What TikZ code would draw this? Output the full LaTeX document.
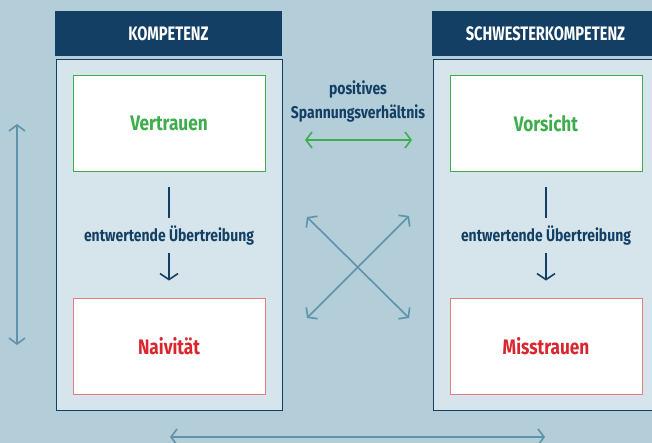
\documentclass[tikz,border=0pt]{standalone}
\usepackage{fontspec}
\setmainfont[FakeStretch=0.75]{Fira Sans}
\newfontfamily\widerfont[FakeStretch=0.82]{Fira Sans}
\usetikzlibrary{arrows.meta}
\definecolor{bgc}{HTML}{B3CDD9}
\definecolor{panelc}{HTML}{D6E5EC}
\definecolor{navy}{HTML}{143F64}
\definecolor{greenc}{HTML}{3DAE4B}
\definecolor{redc}{HTML}{D9262E}
\definecolor{redb}{HTML}{E57D80}
\definecolor{bluea}{HTML}{5E93AB}
\tikzset{
  header/.style={fill=navy, draw=none, minimum width=227pt, minimum height=45pt, inner sep=0pt,
    text=white, font=\bfseries\fontsize{19.5}{22}\selectfont},
  panel/.style={fill=panelc, draw=navy, line width=0.8pt, minimum width=226pt, minimum height=351pt, inner sep=0pt},
  goodbox/.style={fill=white, draw=greenc, line width=0.9pt, minimum width=192pt, minimum height=96pt, inner sep=0pt,
    text=greenc, font=\widerfont\bfseries\fontsize{21}{24}\selectfont},
  badbox/.style={fill=white, draw=redb, line width=0.9pt, minimum width=192pt, minimum height=96pt, inner sep=0pt,
    text=redc, font=\widerfont\bfseries\fontsize{21}{24}\selectfont},
  lab/.style={text=navy, font=\widerfont\bfseries\fontsize{17}{20}\selectfont, inner sep=0pt, text height=12pt, text depth=3pt},
  midlab/.style={text=navy, font=\widerfont\bfseries\fontsize{17}{24}\selectfont, align=center, inner sep=0pt},
  darkline/.style={draw=navy, line width=1.6pt},
  darkarrow/.style={darkline, -{Straight Barb[length=6pt,width=18pt,line width=1.6pt]}},
  greenarrow/.style={draw=greenc, line width=1.6pt, {Straight Barb[length=6pt,width=16pt]}-{Straight Barb[length=6pt,width=16pt]}},
  bluearrow/.style={draw=bluea, line width=1.6pt, {Straight Barb[length=6pt,width=16pt]}-{Straight Barb[length=6pt,width=16pt]}},
}
\begin{document}
\begin{tikzpicture}[x=1pt,y=-1pt]
\fill[bgc] (0,0) rectangle (652,443);
\useasboundingbox (0,0) rectangle (652,443);
% left column
\node[panel] (pl) at (169,234.5) {};
\node[header] (hl) at (168.5,33.5) {KOMPETENZ};
\node[goodbox] (v1) at (169,123) {Vertrauen};
\node[badbox] (n1) at (169,346) {Naivität};
\node[lab] (l1) at (169,237) {entwertende Übertreibung};
\draw[darkline, shorten <=16pt, shorten >=11.5pt] (v1.south) -- (l1.north);
\draw[darkarrow, shorten <=8.5pt, shorten >=17pt] (l1.south) -- (n1.north);
% right column
\node[panel] (pr) at (546,234.5) {};
\node[header] (hr) at (545.5,33.5) {SCHWESTERKOMPETENZ};
\node[goodbox] (v2) at (546,123) {Vorsicht};
\node[badbox] (n2) at (546,346) {Misstrauen};
\node[lab] (l2) at (546,237) {entwertende Übertreibung};
\draw[darkline, shorten <=16pt, shorten >=11.5pt] (v2.south) -- (l2.north);
\draw[darkarrow, shorten <=8.5pt, shorten >=17pt] (l2.south) -- (n2.north);
% middle
\node[midlab] (pos) at (358,101) {positives\\Spannungsverhältnis};
\coordinate (gA) at (305,140);
\coordinate (gB) at (412,140);
\draw[greenarrow] (gA) -- (gB);
\coordinate (c1) at (307,217);
\coordinate (c2) at (409,318);
\coordinate (c3) at (307,318);
\coordinate (c4) at (409,216);
\draw[bluearrow] (c1) -- (c2);
\draw[bluearrow] (c3) -- (c4);
\coordinate (vA) at (17,124);
\coordinate (vB) at (17,345);
\draw[bluearrow] (vA) -- (vB);
\coordinate (hA) at (170,437);
\coordinate (hB) at (545,437);
\draw[bluearrow] (hA) -- (hB);
\end{tikzpicture}
\end{document}
